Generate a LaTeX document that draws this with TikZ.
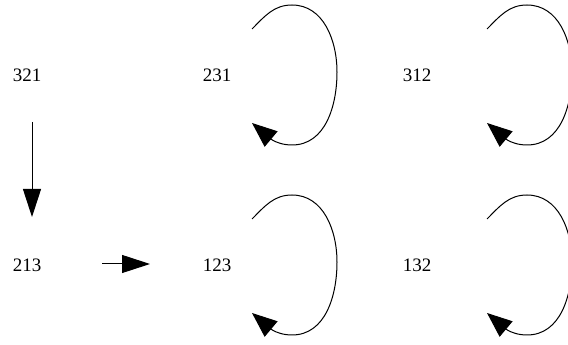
\documentclass[tikz,border=0pt]{standalone}
\usepackage{fontspec}
\setmainfont{Liberation Serif}
\usetikzlibrary{arrows.meta}
\begin{document}
\begin{tikzpicture}[x=1pt,y=1pt,
  lab/.style={font=\fontsize{19}{19}\selectfont, inner sep=0pt, anchor=center},
  loopc/.style={line width=1pt, -{Triangle[length=25pt,width=20pt]}},
  arr/.style={line width=1pt, -{Triangle[length=28pt,width=18pt]}}]
\useasboundingbox (0,0) rectangle (568,345);
\node[lab] (n321) at (27,270) {321};
\node[lab] (n231) at (217,270) {231};
\node[lab] (n312) at (417,270) {312};
\node[lab] (n213) at (27,80) {213};
\node[lab] (n123) at (217,80) {123};
\node[lab] (n132) at (417,80) {132};
\draw[arr] ([xshift=5pt,yshift=-47pt]n321.center) -- ([xshift=5pt,yshift=48pt]n213.center);
\draw[arr] ([xshift=75pt,yshift=1pt]n213.center) -- ([xshift=-67pt,yshift=1pt]n123.center);
\draw[loopc] ([shift={(35,46)}]n231.center) to[out=45,in=180] ++(40,24) to[out=0,in=90] ++(45,-67) to[out=-90,in=0] ++(-45,-73) to[out=180,in=-40] ++(-40,22);
\draw[loopc] ([shift={(35,46)}]n123.center) to[out=45,in=180] ++(40,24) to[out=0,in=90] ++(45,-67) to[out=-90,in=0] ++(-45,-73) to[out=180,in=-40] ++(-40,22);
\draw[loopc] ([shift={(70,46)}]n312.center) to[out=45,in=180] ++(40,24) to[out=0,in=90] ++(45,-67) to[out=-90,in=0] ++(-45,-73) to[out=180,in=-40] ++(-40,22);
\draw[loopc] ([shift={(70,46)}]n132.center) to[out=45,in=180] ++(40,24) to[out=0,in=90] ++(45,-67) to[out=-90,in=0] ++(-45,-73) to[out=180,in=-40] ++(-40,22);
\end{tikzpicture}
\end{document}
